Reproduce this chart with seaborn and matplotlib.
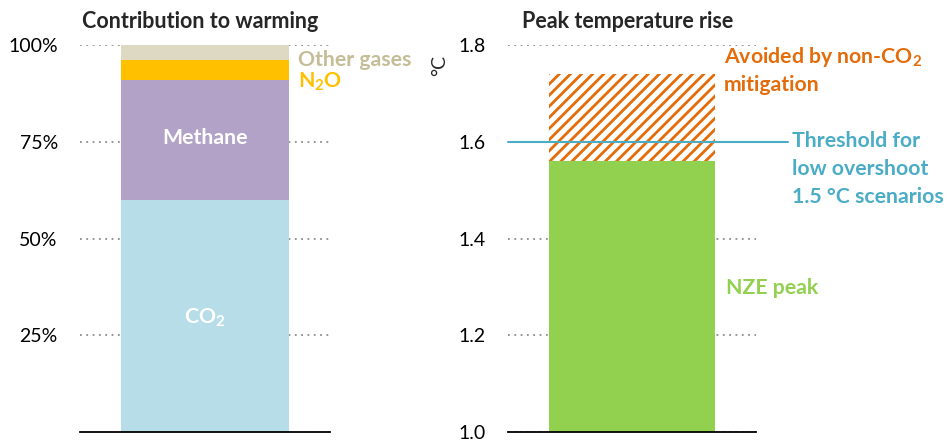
import pandas as pd
import matplotlib
matplotlib.use("Agg")
import matplotlib.pyplot as plt
import seaborn as sns

# ----------------------------------------------------------
# DATA
# ----------------------------------------------------------

gases = ["CO$_2$", "Methane", "N$_2$O", "Other gases"]
gas_share = [60, 31, 5, 4]          # % of warming
gas_colors = ["#B7DDE8", "#B3A2C7", "#FFC000", "#DDD9C3"]

nze_peak = 1.56                      # degC
peak_without_nonco2 = 1.74           # degC
threshold = 1.6                      # degC

left_ticks = [25, 50, 75, 100]
right_ticks = [1.0, 1.2, 1.4, 1.6, 1.8]

# ----------------------------------------------------------
# STYLE
# ----------------------------------------------------------

sns.set_theme(style="white")
plt.rcParams["font.family"] = ["Lato", "DejaVu Sans"]
plt.rcParams["mathtext.fontset"] = "custom"
plt.rcParams["mathtext.default"] = "bf"
plt.rcParams["mathtext.bf"] = "Lato:bold"
plt.rcParams["mathtext.rm"] = "Lato:bold"
plt.rcParams["hatch.linewidth"] = 2.0

orange = "#E46C0A"
blue = "#4BACC6"
green = "#92D050"
label_size = 15.3
grid_kw = dict(linestyle=(0, (1, 2.5)), color="#8C8C8C", linewidth=1.3)

fig = plt.figure(figsize=(9.48, 4.43), dpi=100)
ax1 = fig.add_axes([80 / 948, 11 / 443, 250 / 948, 387 / 443])
ax2 = fig.add_axes([508 / 948, 11 / 443, 248 / 948, 387 / 443])

# ----------------------------------------------------------
# LEFT: CONTRIBUTION TO WARMING
# ----------------------------------------------------------

df = pd.DataFrame({"gas": gases, "share": gas_share, "color": gas_colors})
df["top"] = df["share"].cumsum()

for _, row in df.iloc[::-1].iterrows():
    sns.barplot(x=["warming"], y=[row["top"]], color=row["color"],
                saturation=1, width=0.672, linewidth=0, ax=ax1)

ax1.set_xlim(-0.5, 0.5)
ax1.set_ylim(0, 100)
ax1.set_yticks(left_ticks)
ax1.set_yticklabels([f"{t}%" for t in left_ticks])

ax1.text(0, 76, "Methane", color="white", fontsize=label_size,
         fontweight="bold", ha="center", va="center")
ax1.text(0, 29.5, "CO$_2$", color="white", fontsize=label_size,
         fontweight="bold", ha="center", va="center")
ax1.text(0.372, 96.1, "Other gases", color="#C4BD97", fontsize=label_size,
         fontweight="bold", ha="left", va="center")
ax1.text(0.372, 90.4, "N$_2$O", color="#FFC000", fontsize=label_size,
         fontweight="bold", ha="left", va="center")

# ----------------------------------------------------------
# RIGHT: PEAK TEMPERATURE RISE
# ----------------------------------------------------------

sns.barplot(x=["peak"], y=[peak_without_nonco2], color="white", saturation=1,
            width=0.669, hatch="///", edgecolor=orange, linewidth=0, ax=ax2)
sns.barplot(x=["peak"], y=[nze_peak], color=green, saturation=1,
            width=0.669, linewidth=0, ax=ax2)

ax2.set_xlim(-0.5, 0.5)
ax2.set_ylim(1.0, 1.8)
ax2.set_yticks(right_ticks)
ax2.set_yticklabels([f"{t:.1f}" for t in right_ticks])
ax2.axhline(threshold, xmin=0, xmax=280 / 248, color=blue, linewidth=1.5,
            clip_on=False, zorder=5)

ax2.text(0.371, 1.775, "Avoided by non-CO$_2$", color=orange,
         fontsize=label_size, fontweight="bold", ha="left", va="center")
ax2.text(0.371, 1.717, "mitigation", color=orange, fontsize=label_size,
         fontweight="bold", ha="left", va="center")
for y, line in zip([1.6016, 1.544, 1.486],
                   ["Threshold for", "low overshoot", "1.5 °C scenarios"]):
    ax2.text(0.645, y, line, color=blue, fontsize=label_size,
             fontweight="bold", ha="left", va="center")
ax2.text(0.38, 1.298, "NZE peak", color=green, fontsize=label_size,
         fontweight="bold", ha="left", va="center")

# ----------------------------------------------------------
# SHARED AXIS FORMATTING
# ----------------------------------------------------------

for ax in (ax1, ax2):
    ax.set_axisbelow(True)
    ax.yaxis.grid(True, **grid_kw)
    ax.xaxis.grid(False)
    for side in ["left", "right", "top"]:
        ax.spines[side].set_visible(False)
    ax.spines["bottom"].set_color("black")
    ax.spines["bottom"].set_linewidth(1.3)
    ax.set_xticks([])
    ax.set_xlabel("")
    ax.set_ylabel("")
    ax.tick_params(axis="y", length=0, pad=16, labelsize=14, labelcolor="black")

fig.text(82 / 948, 1 - 21 / 443, "Contribution to warming", fontsize=15.5,
         fontweight="bold", ha="left", va="center")
fig.text(522 / 948, 1 - 21 / 443, "Peak temperature rise", fontsize=15.5,
         fontweight="bold", ha="left", va="center")
fig.text(440 / 948, 1 - 65 / 443, "°C", fontsize=14, rotation=90,
         ha="center", va="center")

fig.savefig("out.png", dpi=100)
